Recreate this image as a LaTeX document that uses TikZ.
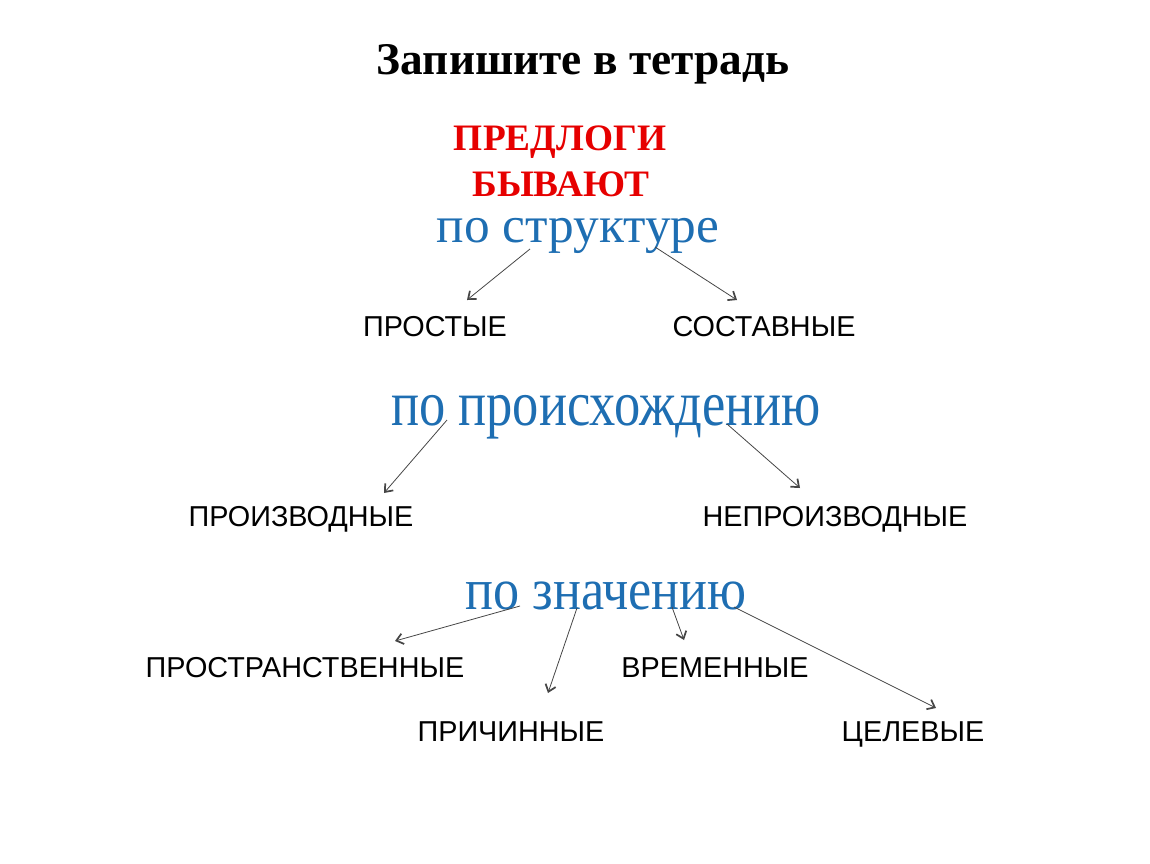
\documentclass[tikz,border=0pt]{standalone}
\usepackage{fontspec}
\setmainfont{Liberation Serif}
\newfontfamily\labelfont{Liberation Sans}
\newfontfamily\originfont[FakeStretch=0.82]{Liberation Serif}
\newfontfamily\meaningfont[FakeStretch=0.89]{Liberation Serif}
\usetikzlibrary{arrows.meta}

\definecolor{titleblue}{RGB}{30,110,178}
\definecolor{titlered}{RGB}{230,0,0}
\definecolor{linegray}{RGB}{70,70,70}

\tikzset{
  heading/.style={anchor=base, font=\fontsize{34}{40}\selectfont\bfseries},
  kind/.style={anchor=base, text=titlered, font=\fontsize{28}{32}\selectfont\bfseries},
  criterion/.style={anchor=base, text=titleblue, font=\fontsize{38.5}{44}\selectfont},
  leaf/.style={anchor=base, font=\labelfont\fontsize{21.6}{24}\selectfont},
  pointer/.style={draw=linegray, line width=0.6pt, -{Straight Barb[length=5pt,width=8pt,line width=1.3pt]}}
}

\begin{document}
\begin{tikzpicture}[x=0.75pt, y=-0.75pt]
\useasboundingbox (0,0) rectangle (1150,864);

% Заголовок
\node[heading] (title) at (583,74) {Запишите в тетрадь};
\node[kind] (prep1) at (560,150) {ПРЕДЛОГИ};
\node[kind] (prep2) at (561,196) {БЫВАЮТ};

% По структуре
\node[criterion] (struct) at (578,242) {по структуре};
\node[leaf] (simple) at (435,336) {ПРОСТЫЕ};
\node[leaf] (compound) at (764,336) {СОСТАВНЫЕ};
\coordinate (s1) at (530,249);
\coordinate (s2) at (655,247);
\coordinate (e1) at (467,300);
\coordinate (e2) at (737,300);
\draw[pointer] (s1) -- (e1);
\draw[pointer] (s2) -- (e2);

% По происхождению
\node[criterion, font=\originfont\fontsize{48}{54}\selectfont] (origin) at (606,425) {по происхождению};
\node[leaf] (deriv) at (301,526) {ПРОИЗВОДНЫЕ};
\node[leaf] (nonderiv) at (835,526) {НЕПРОИЗВОДНЫЕ};
\coordinate (s3) at (447,420);
\coordinate (s4) at (727,424);
\coordinate (e3) at (384,493);
\coordinate (e4) at (800,488);
\draw[pointer] (s3) -- (e3);
\draw[pointer] (s4) -- (e4);

% По значению
\node[criterion, font=\meaningfont\fontsize{44}{50}\selectfont] (meaning) at (606,609) {по значению};
\node[leaf] (spatial) at (305,677) {ПРОСТРАНСТВЕННЫЕ};
\node[leaf] (temporal) at (715,677) {ВРЕМЕННЫЕ};
\node[leaf] (causal) at (511,741) {ПРИЧИННЫЕ};
\node[leaf] (purpose) at (913,741) {ЦЕЛЕВЫЕ};
\coordinate (s5) at (520,606);
\coordinate (s6) at (577,608);
\coordinate (s7) at (672,607);
\coordinate (s8) at (734,607);
\coordinate (e5) at (395,641);
\coordinate (e6) at (548,693);
\coordinate (e7) at (684,640);
\coordinate (e8) at (936,708);
\draw[pointer] (s5) -- (e5);
\draw[pointer] (s6) -- (e6);
\draw[pointer] (s7) -- (e7);
\draw[pointer] (s8) -- (e8);
\end{tikzpicture}
\end{document}
